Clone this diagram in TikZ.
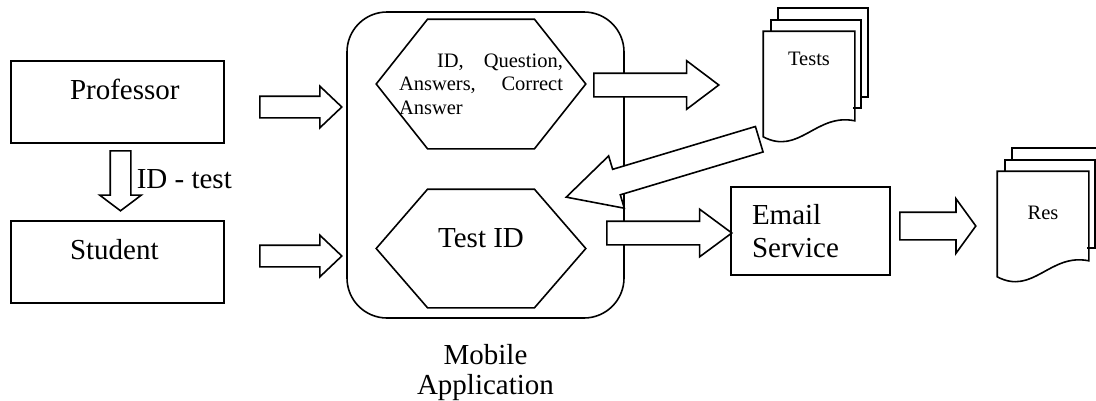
\documentclass[tikz,border=0pt]{standalone}
\usepackage{fontspec}
\setmainfont{Liberation Serif}
\usetikzlibrary{shapes.arrows, positioning, calc}

\newcommand{\bigtext}{\fontsize{29}{33}\selectfont}
\newcommand{\smalltext}{\fontsize{20.5}{23.5}\selectfont}

% hexagon drawn round a node
\newcommand{\hexborder}[1]{%
  \draw (#1.west) -- ($(#1.north west)!.245!(#1.north east)$) -- ($(#1.north west)!.755!(#1.north east)$)
    -- (#1.east) -- ($(#1.south west)!.755!(#1.south east)$) -- ($(#1.south west)!.245!(#1.south east)$) -- cycle;}

% stack of three pages round a node
\newcommand{\docstack}[1]{%
  \draw ([shift={(15,-11.5)}]#1.north west) -- ++(0,-11.5) -- ++(90,0) -- ++(0,88.5) -- ++(-7.5,0);
  \draw ([shift={(7.5,0)}]#1.north west) -- ++(0,-11.5) -- ++(90,0) -- ++(0,88.5) -- ++(-7.5,0);
  \draw (#1.north west) -- (#1.north east) -- ([shift={(0,-16)}]#1.south east)
    .. controls ([shift={(-39,-24)}]#1.south east) and ([shift={(36,19)}]#1.south west) .. (#1.south west) -- cycle;}

\begin{document}
\begin{tikzpicture}[
    x=1pt, y=-1pt,
    line width=1.6pt,
    box/.style={draw, rectangle, font=\bigtext, align=left, text height=19pt, text depth=24pt},
    hexnode/.style={rectangle, inner sep=0pt, minimum width=208pt},
    page/.style={rectangle, inner sep=0pt, minimum width=90pt, minimum height=104pt, font=\smalltext, text height=14pt},
    barrow/.style={draw, fill=white, single arrow, inner sep=0pt, anchor=tail}]

\useasboundingbox (0,0) rectangle (1096,400);

% Users
\node[box, minimum width=213pt, minimum height=82pt, text width=95pt, inner xsep=59pt] (prof) at (117.5,102) {Professor};
\node[box, minimum width=213pt, minimum height=82pt, text width=95pt, inner xsep=59pt] (stud) at (117.5,262) {Student};

% Mobile application
\node[draw, rounded corners=40pt, minimum width=277pt, minimum height=306pt] (app) at (485.5,165) {};
\node[below=25pt of app, inner sep=0pt, align=center, font=\fontsize{29}{30}\selectfont] (applbl) {Mobile\\Application};

\node[hexnode, minimum height=128pt, text width=164pt, align=justify, font=\smalltext] (qa) at (481,84)
    {\hspace*{38pt}ID, Question,\linebreak Answers, Correct\linebreak Answer};
\hexborder{qa}
\node[hexnode, minimum height=117pt, font=\bigtext, text height=19pt, text depth=22pt] (tid) at (481,248.5) {Test ID};
\hexborder{tid}

% Documents
\node[page, text depth=52pt] (tests) at (809,84) {Tests};
\docstack{tests}
\node[page, text depth=24pt] (res) at (1043,224) {Res};
\docstack{res}

\node[draw, minimum width=159pt, minimum height=88pt, text width=117pt, inner xsep=21pt, align=left, font=\bigtext] (email) at (810.5,231) {Email\\Service};

% Block arrows
\node[barrow, minimum height=82pt, minimum width=40pt, inner ysep=10pt, single arrow head extend=10pt, single arrow tip angle=87] (a1) at (259,107) {};
\node[barrow, minimum height=82pt, minimum width=40pt, inner ysep=10pt, single arrow head extend=10pt, single arrow tip angle=87] (a2) at (259,256) {};
\node[barrow, rotate=-90, minimum height=60pt, minimum width=40pt, inner ysep=9.5pt, single arrow head extend=10.5pt, single arrow tip angle=106] (a3) at (120.5,150) {};
\node[anchor=base west, inner sep=0pt, font=\bigtext] (idlbl) at (136,188) {ID - test};
\node[barrow, minimum height=125pt, minimum width=47pt, inner ysep=11pt, single arrow head extend=12.5pt, single arrow tip angle=74] (a4) at (593,85) {};
\node[barrow, rotate=196.7, minimum height=201.5pt, minimum width=53pt, inner ysep=12.5pt, single arrow head extend=14pt, single arrow tip angle=55] (a5) at (760,139) {};
\node[barrow, minimum height=125pt, minimum width=46pt, inner ysep=11pt, single arrow head extend=12pt, single arrow tip angle=73] (a6) at (606,233) {};
\node[barrow, minimum height=76pt, minimum width=53pt, inner ysep=13pt, single arrow head extend=13.5pt, single arrow tip angle=108] (a7) at (899,226) {};

\end{tikzpicture}
\end{document}
